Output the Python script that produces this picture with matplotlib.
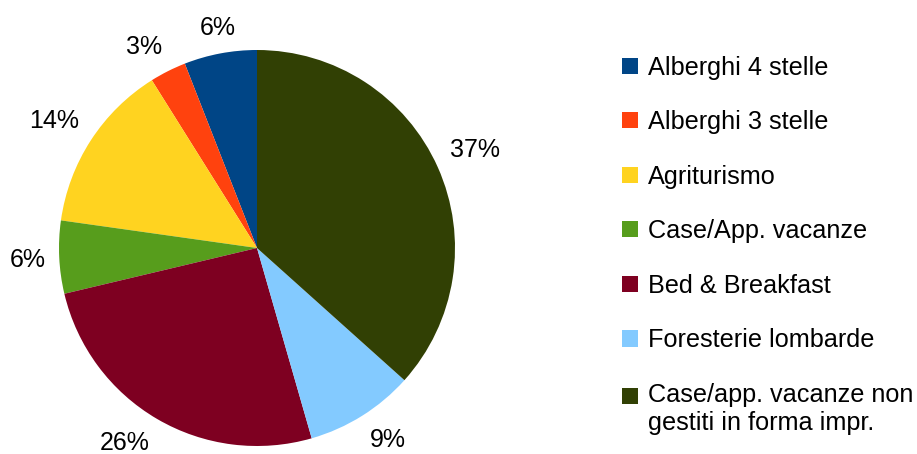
import matplotlib
matplotlib.use("Agg")
import numpy as np
import matplotlib.pyplot as plt
from matplotlib.patches import Patch, Rectangle
from matplotlib.legend_handler import HandlerPatch

categories = ["Alberghi 4 stelle", "Alberghi 3 stelle", "Agriturismo",
              "Case/App. vacanze", "Bed & Breakfast", "Foresterie lombarde",
              "Case/app. vacanze non\ngestiti in forma impr."]
values = [6, 3, 14, 6, 26, 9, 37]
pct_labels = ["6%", "3%", "14%", "6%", "26%", "9%", "37%"]
colors = ["#004586", "#ff420e", "#ffd320", "#579d1c", "#7e0021", "#83caff", "#314004"]

plt.rcParams['font.family'] = ['Liberation Sans', 'DejaVu Sans']

W, H = 917, 454
fig = plt.figure(figsize=(W / 100, H / 100), dpi=100)
cx, cy, r = 257, 248, 198
ax = fig.add_axes([(cx - r) / W, (H - cy - r) / H, 2 * r / W, 2 * r / H])
wedges, _ = ax.pie(values, colors=colors, startangle=90, counterclock=True,
                   wedgeprops=dict(linewidth=0))
ax.set_xlim(-1, 1)
ax.set_ylim(-1, 1)
ax.set_aspect('equal')
ax.axis('off')

# percentage labels placed just outside each wedge, aligned by corner
k = 1.07
for w, lab in zip(wedges, pct_labels):
    ang = np.deg2rad((w.theta1 + w.theta2) / 2)
    c, s = np.cos(ang), np.sin(ang)
    ha = 'center' if abs(c) < 0.3 else ('left' if c > 0 else 'right')
    va = 'center_baseline' if abs(s) < 0.3 else ('bottom' if s > 0 else 'top')
    ax.text(k * c, k * s, lab, ha=ha, va=va, fontsize=18, color='black')

shift_pt = 10.0


def top_aligned(legend, orig_handle, xdescent, ydescent, width, height, fontsize):
    return Rectangle((-xdescent, -ydescent + shift_pt), width, height)


handles = [Patch(facecolor=c, edgecolor='none') for c in colors]
leg = fig.legend(handles, categories, loc='upper left',
                 bbox_to_anchor=(622 / W, 1 - 55.5 / H), frameon=False,
                 fontsize=18.2, handlelength=0.63, handleheight=0.6,
                 handletextpad=0.38, labelspacing=1.21, borderpad=0,
                 borderaxespad=0,
                 handler_map={handles[-1]: HandlerPatch(patch_func=top_aligned)})

fig.savefig("out.png", dpi=100)
